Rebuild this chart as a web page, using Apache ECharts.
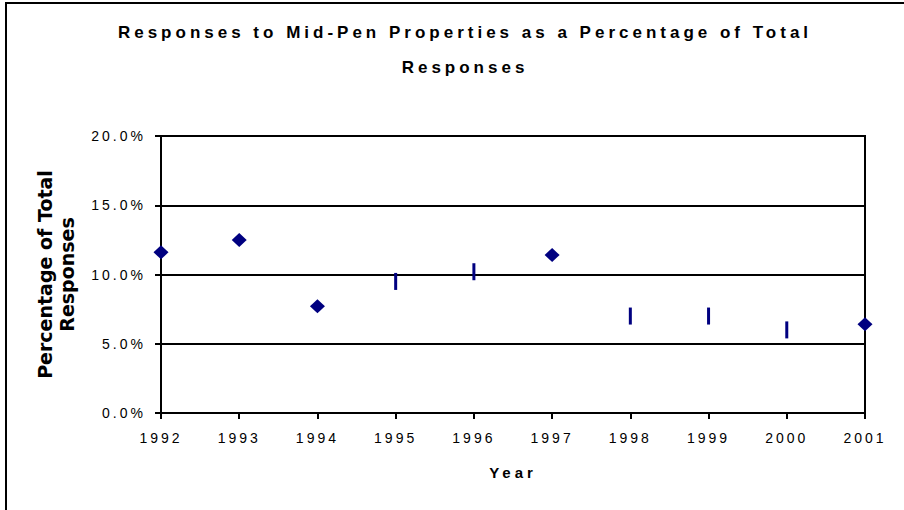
<!DOCTYPE html>
<html>
<head>
<meta charset="utf-8">
<script src="https://cdn.jsdelivr.net/npm/echarts@6/dist/echarts.min.js"></script>
<style>
  html, body { margin: 0; padding: 0; background: #fff; }
  #chart { width: 904px; height: 510px; }
  /* spread the letters like the original spreadsheet render */
  #chart text { letter-spacing: 3px; }
  #chart text[style*="17px"] { letter-spacing: 4px; }
  #chart text[style*="15px"] { letter-spacing: 4px; }
  #chart text[style*="DejaVu"] { letter-spacing: 0; }
</style>
</head>
<body>
<div id="chart"></div>
<script>
// years on the x axis
const years = ['1992', '1993', '1994', '1995', '1996', '1997', '1998', '1999', '2000', '2001'];
// responses to Mid-Pen properties, % of total responses
const responsePct = [11.6, 12.5, 7.7, 9.5, 10.2, 11.4, 7.0, 7.0, 6.0, 6.4];
// y axis ticks (percent)
const yTicks = [0, 5, 10, 15, 20];

// these years show up as a thin vertical mark instead of a diamond
const thinMarkYears = ['1995', '1996', '1998', '1999', '2000'];

const navy = '#000080';
const points = responsePct.map(function (v, i) {
  const thin = thinMarkYears.indexOf(years[i]) >= 0;
  return {
    value: v,
    symbol: thin ? 'rect' : 'diamond',
    symbolSize: thin ? [3, 17] : [15, 14]
  };
});

const chart = echarts.init(document.getElementById('chart'), null, { renderer: 'svg' });
chart.setOption({
  animation: false,
  backgroundColor: '#fff',
  title: {
    text: 'Responses to Mid-Pen Properties as a Percentage of Total\nResponses',
    left: 465,
    textAlign: 'center',
    top: 15,
    padding: 0,
    textStyle: {
      fontFamily: 'Liberation Sans',
      fontSize: 17,
      fontWeight: 'bold',
      color: '#000',
      lineHeight: 35
    }
  },
  graphic: [{
    type: 'rect',
    shape: { x: 6, y: 3, width: 1000, height: 1000 },
    style: { fill: 'none', stroke: '#000', lineWidth: 2 },
    silent: true
  }],
  grid: {
    left: 161,
    right: 39,
    top: 136,
    bottom: 97,
    show: true,
    borderColor: '#000',
    borderWidth: 2
  },
  xAxis: {
    type: 'category',
    data: years,
    boundaryGap: false,
    name: 'Year',
    nameLocation: 'middle',
    nameGap: 52,
    nameTextStyle: { fontFamily: 'Liberation Sans', fontSize: 15, fontWeight: 'bold', color: '#000' },
    axisLine: { lineStyle: { color: '#000', width: 2 } },
    axisTick: { show: true, length: 6, alignWithLabel: true, lineStyle: { color: '#000', width: 2 } },
    axisLabel: { margin: 18, fontFamily: 'Liberation Sans', fontSize: 14, color: '#000' },
    splitLine: { show: false }
  },
  yAxis: {
    type: 'value',
    min: yTicks[0],
    max: yTicks[yTicks.length - 1],
    interval: yTicks[1] - yTicks[0],
    name: 'Percentage of Total\nResponses',
    nameLocation: 'middle',
    nameGap: 83,
    nameRotate: 90,
    nameTextStyle: { fontFamily: 'DejaVu Sans', fontSize: 19, fontWeight: 'bold', color: '#000', lineHeight: 22 },
    axisLine: { show: true, lineStyle: { color: '#000', width: 2 } },
    axisTick: { show: true, length: 6, lineStyle: { color: '#000', width: 2 } },
    axisLabel: {
      margin: 15,
      fontFamily: 'Liberation Sans',
      fontSize: 14,
      color: '#000',
      formatter: function (v) { return v.toFixed(1) + '%'; }
    },
    splitLine: { show: true, lineStyle: { color: '#000', width: 2 } }
  },
  series: [{
    name: 'Mid-Pen',
    type: 'scatter',
    data: points,
    itemStyle: { color: navy, opacity: 1 }
  }]
});
</script>
</body>
</html>
